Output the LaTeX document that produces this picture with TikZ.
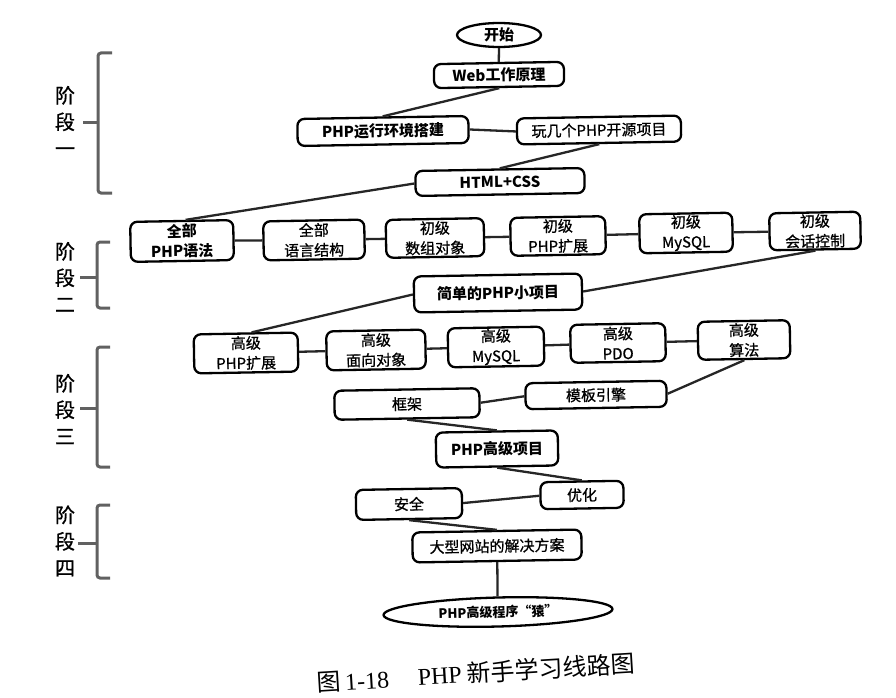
\documentclass[tikz,border=0pt]{standalone}
\usepackage{fontspec}
\setmainfont{Noto Sans CJK SC}
\newfontfamily\medfont{Noto Sans CJK SC}[FakeBold=0.8]
\newfontfamily\capserif{Liberation Serif}
\usetikzlibrary{shapes.geometric}
\tikzset{
  box/.style={draw=black, line width=2.3pt, rounded corners=7pt, fill=white,
    inner sep=0pt, align=center, rotate=1, font=\fontsize{15}{20}\selectfont\medfont},
  bbox/.style={box, font=\fontsize{15}{20}\selectfont\bfseries},
  oval/.style={ellipse, draw=black, line width=2.3pt, fill=white, inner sep=0pt,
    font=\fontsize{15}{18}\selectfont\bfseries},
  conn/.style={draw=black!85, line width=2.3pt},
  brk/.style={draw=black!62, line width=3pt, rounded corners=3pt},
  stage/.style={font=\fontsize{20}{26.5}\selectfont\medfont, align=center, inner sep=0pt},
}
\begin{document}
\begin{tikzpicture}[x=1pt,y=-1pt]
\path[use as bounding box, fill=white] (0,0) rectangle (896,698);

% stage labels and brackets
\node[stage] (s1) at (65,121) {阶\\段\\一};
\node[stage] (s2) at (65,277) {阶\\段\\二};
\node[stage] (s3) at (65,409) {阶\\段\\三};
\node[stage] (s4) at (65,541) {阶\\段\\四};
\draw[brk] (112,53) -- (98,53) -- (98,193) -- (112,193);
\draw[brk] (98,123) -- (83,123);
\draw[brk] (110,242) -- (97,242) -- (97,308) -- (110,308);
\draw[brk] (97,277) -- (80,277);
\draw[brk] (110,347) -- (97,347) -- (97,467) -- (110,467);
\draw[brk] (97,408) -- (80,408);
\draw[brk] (110,505) -- (97,505) -- (97,578) -- (110,578);
\draw[brk] (97,543) -- (78,543);

% stage one
\node[oval, minimum width=84pt, minimum height=24pt] (start) at (499,35) {开始};
\node[bbox, minimum width=130pt, minimum height=24pt] (web) at (499,75) {Web工作原理};
\node[bbox, minimum width=171pt, minimum height=27pt] (env) at (383,131) {PHP运行环境搭建};
\node[box, minimum width=164pt, minimum height=26pt] (oss) at (599,130) {玩几个PHP开源项目};
\node[bbox, minimum width=169pt, minimum height=25pt] (html) at (500,182) {HTML+CSS};

% stage two
\node[bbox, minimum width=103pt, minimum height=40pt] (a1) at (182,241) {全部\\PHP语法};
\node[box, minimum width=101pt, minimum height=39pt] (a2) at (314,240) {全部\\语言结构};
\node[box, minimum width=98pt, minimum height=38pt] (a3) at (435,238) {初级\\数组对象};
\node[box, minimum width=95pt, minimum height=38pt] (a4) at (558,236) {初级\\PHP扩展};
\node[box, minimum width=93pt, minimum height=39pt] (a5) at (686,233) {初级\\MySQL};
\node[box, minimum width=91pt, minimum height=37pt] (a6) at (815,231) {初级\\会话控制};
\node[bbox, minimum width=168pt, minimum height=36pt] (simple) at (498,293) {简单的PHP小项目};

% stage three
\node[box, minimum width=104pt, minimum height=39pt] (b1) at (246,353) {高级\\PHP扩展};
\node[box, minimum width=99pt, minimum height=39pt] (b2) at (376,350) {高级\\面向对象};
\node[box, minimum width=96pt, minimum height=39pt] (b3) at (496,347) {高级\\MySQL};
\node[box, minimum width=95pt, minimum height=38pt] (b4) at (618,343) {高级\\PDO};
\node[box, minimum width=92pt, minimum height=38pt] (b5) at (744,340) {高级\\算法};
\node[box, minimum width=145pt, minimum height=29pt] (kj) at (407,404) {框架};
\node[box, minimum width=141pt, minimum height=26pt] (tpl) at (596,395) {模板引擎};
\node[bbox, minimum width=122pt, minimum height=35pt] (adv) at (497,449) {PHP高级项目};

% stage four
\node[box, minimum width=106pt, minimum height=30pt] (sec) at (409,504) {安全};
\node[box, minimum width=83pt, minimum height=27pt] (opt) at (582,495) {优化};
\node[box, minimum width=169pt, minimum height=30pt] (big) at (497,546) {大型网站的解决方案};
\node[oval, rotate=1.5, minimum width=229pt, minimum height=29pt,
  font=\fontsize{13}{16}\selectfont\bfseries] (end) at (498,612) {PHP高级程序“猿”};

% connectors
\draw[conn] (start.south) -- (web.north);
\draw[conn] (web.south) -- (env.north);
\draw[conn] (env.east) -- (oss.west);
\draw[conn] (oss.south) -- (html.north);
\draw[conn] (html.west) -- ([xshift=4pt]a1.north);
\draw[conn] (a1) -- (a2);
\draw[conn] (a2) -- (a3);
\draw[conn] (a3) -- (a4);
\draw[conn] (a4) -- (a5);
\draw[conn] (a5) -- (a6);
\draw[conn] (a6.south) -- (simple.east);
\draw[conn] (simple.west) -- ([xshift=6pt]b1.north);
\draw[conn] (b1) -- (b2);
\draw[conn] (b2) -- (b3);
\draw[conn] (b3) -- (b4);
\draw[conn] (b4) -- (b5);
\draw[conn] (b5.south) -- (tpl.east);
\draw[conn] (tpl.west) -- (kj.east);
\draw[conn] (kj.south) -- (adv.north);
\draw[conn] (adv.south) -- (opt.north);
\draw[conn] (opt.west) -- (sec.east);
\draw[conn] (sec.south) -- (big.north);
\draw[conn] (big.south) -- (end.north);

% caption
\node[rotate=3.5, inner sep=0pt, font=\fontsize{24}{28}\selectfont] (cap) at (476,673)
  {图\,{\capserif 1-18}\hspace{1.2em}{\capserif PHP} 新手学习线路图};
\end{tikzpicture}
\end{document}
